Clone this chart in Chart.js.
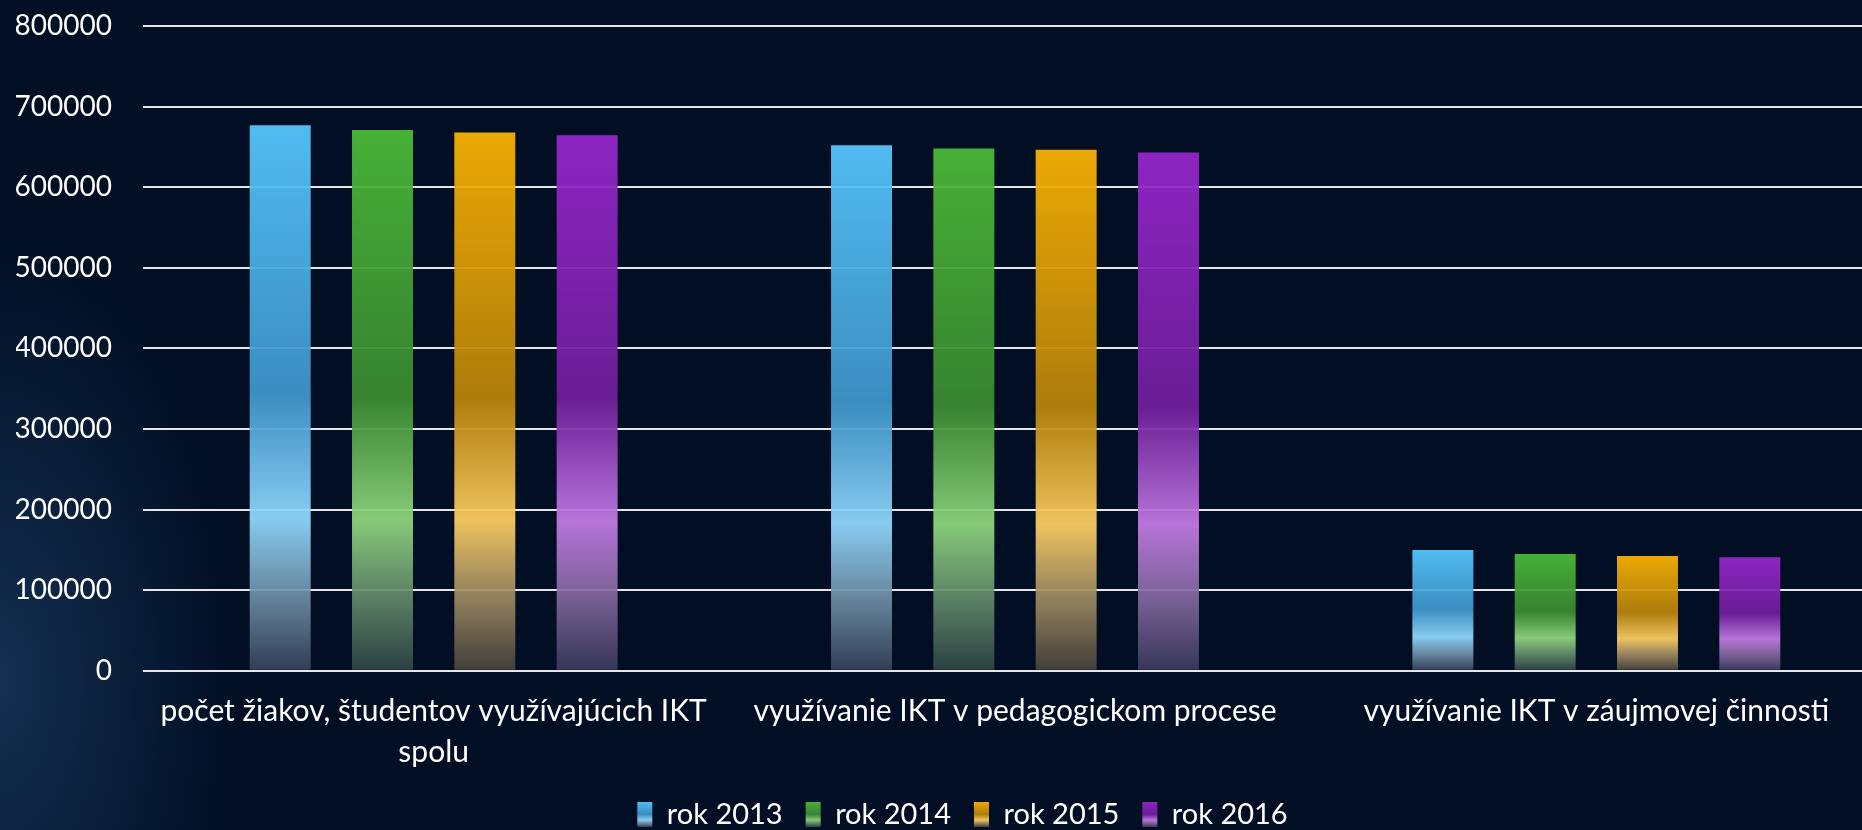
<!DOCTYPE html>
<html>
<head>
<meta charset="utf-8">
<script src="https://cdn.jsdelivr.net/npm/chart.js@4.4.1/dist/chart.umd.min.js"></script>
<style>
  html, body { margin: 0; padding: 0; overflow: hidden; }
  body {
    width: 1862px; height: 830px;
    background:
      radial-gradient(ellipse 240px 460px at 0% 82%, rgba(38, 80, 128, 0.5), rgba(0, 0, 0, 0) 100%),
      #010e23;
  }
  /* graf je v predlohe orezany vpravo, preto sirsi nez okno */
  #wrap { position: relative; width: 1887px; height: 830px; }
</style>
</head>
<body>
<div id="wrap"><canvas id="chartIkt"></canvas></div>
<script>
// kategórie a hodnoty
const categories = [
  ['počet žiakov, študentov využívajúcich IKT', 'spolu'],
  'využívanie IKT v pedagogickom procese',
  'využívanie IKT v záujmovej činnosti'
];
const years = ['rok 2013', 'rok 2014', 'rok 2015', 'rok 2016'];
const rok2013 = [677000, 652000, 150000];
const rok2014 = [671000, 648000, 145000];
const rok2015 = [668000, 646500, 142500];
const rok2016 = [664500, 643000, 141000];
const yTicks = [0, 100000, 200000, 300000, 400000, 500000, 600000, 700000, 800000];

// farby (gradient zhora nadol)
const stopsBlue = [[0, 'rgba(86,199,254,0.94)'], [0.49, 'rgba(63,150,202,0.94)'], [0.72, 'rgba(144,216,253,0.94)'], [0.86, 'rgba(112,145,170,0.92)'], [1, 'rgba(52,66,88,0.92)']];
const stopsGreen = [[0, 'rgba(75,187,56,0.94)'], [0.49, 'rgba(58,139,49,0.94)'], [0.72, 'rgba(143,215,126,0.94)'], [0.86, 'rgba(100,140,108,0.92)'], [1, 'rgba(47,68,69,0.92)']];
const stopsOrange = [[0, 'rgba(250,179,3,0.94)'], [0.49, 'rgba(184,132,10,0.94)'], [0.72, 'rgba(253,206,98,0.94)'], [0.86, 'rgba(160,140,100,0.92)'], [1, 'rgba(70,67,60,0.92)']];
const stopsPurple = [[0, 'rgba(150,39,204,0.94)'], [0.49, 'rgba(112,31,156,0.94)'], [0.72, 'rgba(194,123,228,0.94)'], [0.86, 'rgba(132,104,160,0.92)'], [1, 'rgba(58,58,92,0.92)']];
const allStops = [stopsBlue, stopsGreen, stopsOrange, stopsPurple];

function makeGradient(ctx, stops, top, bottom) {
  const g = ctx.createLinearGradient(0, top, 0, bottom);
  stops.forEach(s => g.addColorStop(s[0], s[1]));
  return g;
}

function barFill(stops) {
  return function (context) {
    const chart = context.chart;
    if (!chart.chartArea || context.type !== 'data') return stops[0][1];
    const y = chart.scales.y;
    return makeGradient(chart.ctx, stops, y.getPixelForValue(context.parsed.y), y.getPixelForValue(0));
  };
}

const legendFont = 29;
const legendBoxH = 25;
const legendPad = 23;

// posun legendy a gradient v stvorceku legendy
const legendTweak = {
  id: 'legendTweak',
  afterLayout(chart) {
    const l = chart.legend;
    l.left += 11;
    l.right += 11;
    l.top -= 8;
    l.bottom -= 8;
  },
  beforeDraw(chart) {
    const l = chart.legend;
    const boxTop = l.top + legendPad + Math.max((legendFont - legendBoxH) / 2, 0);
    l.legendItems.forEach((item, i) => {
      item.fillStyle = makeGradient(chart.ctx, allStops[i], boxTop, boxTop + legendBoxH);
      item.lineWidth = 0;
    });
  }
};

const fontFamily = 'Lato, "Open Sans", sans-serif';

const data = {
  labels: categories,
  datasets: [
    { label: years[0], data: rok2013, backgroundColor: barFill(stopsBlue) },
    { label: years[1], data: rok2014, backgroundColor: barFill(stopsGreen) },
    { label: years[2], data: rok2015, backgroundColor: barFill(stopsOrange) },
    { label: years[3], data: rok2016, backgroundColor: barFill(stopsPurple) }
  ]
};

const config = {
  type: 'bar',
  data: data,
  plugins: [legendTweak],
  options: {
    responsive: true,
    maintainAspectRatio: false,
    animation: false,
    datasets: {
      bar: { categoryPercentage: 0.704, barPercentage: 0.596 }
    },
    layout: { padding: { top: 26, right: 0, left: 16, bottom: -17 } },
    scales: {
      x: {
        afterFit(axis) { axis.paddingLeft = 0; axis.paddingRight = 0; },
        grid: { display: false },
        border: { display: false },
        ticks: {
          color: '#ffffff',
          font: { family: fontFamily, size: 30, lineHeight: 1.37 },
          padding: 12,
          maxRotation: 0,
          autoSkip: false
        }
      },
      y: {
        min: 0,
        max: 800000,
        afterBuildTicks(axis) { axis.ticks = yTicks.map(v => ({ value: v })); },
        afterFit(axis) { axis.width = 127; axis.paddingTop = 0; axis.paddingBottom = 0; },
        grid: { color: '#e6e6e6', lineWidth: 2, drawTicks: false },
        border: { display: false },
        ticks: {
          color: '#ffffff',
          font: { family: fontFamily, size: 28 },
          padding: 31,
          callback: v => String(v)
        }
      }
    },
    plugins: {
      legend: {
        display: true,
        position: 'bottom',
        labels: {
          color: '#ffffff',
          font: { family: fontFamily, size: legendFont },
          boxWidth: 15,
          boxHeight: legendBoxH,
          padding: legendPad
        }
      },
      tooltip: { enabled: false }
    }
  }
};

const node = document.getElementById('chartIkt');
const chartIkt = new Chart(node, config);
</script>
</body>
</html>
